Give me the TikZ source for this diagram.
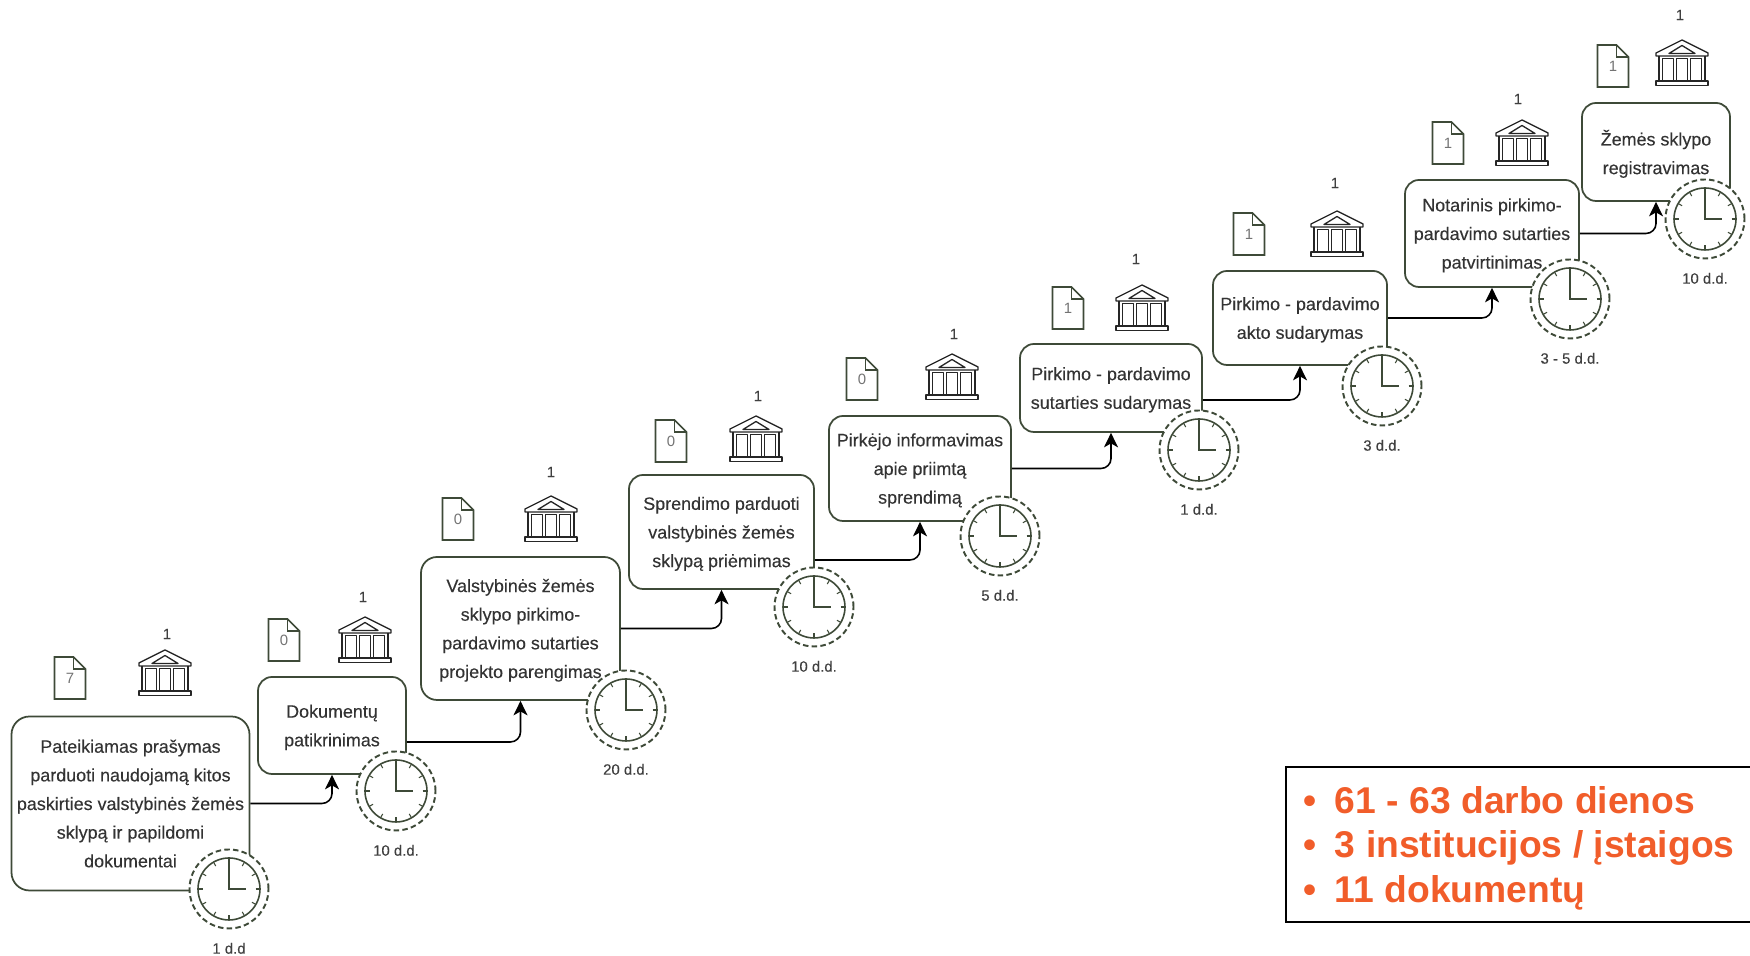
\documentclass[tikz,border=0pt]{standalone}
\usepackage{fontspec}
\setmainfont{Liberation Sans}
\newfontfamily\stepfont[FakeBold=0.25]{Liberation Sans}
\usepackage{tikz}
\usetikzlibrary{arrows.meta, positioning}
\definecolor{boxline}{HTML}{3E4A38}
\definecolor{summary}{HTML}{F15D2A}

\begin{document}
\begin{tikzpicture}[>={Stealth[length=2.9mm,width=2.8mm,inset=.8mm]},on grid,
        main node/.style={rectangle,draw=boxline,line width=1pt,rounded corners=2.8mm,inner sep=0pt,align=center,text depth=0pt,text=black!80,font=\stepfont\fontsize{10.2pt}{16.3pt}\selectfont},
        doc node/.style={inner sep=0pt,outer sep=0pt,minimum width=6.2mm,minimum height=8.4mm,text=black!55,font=\fontsize{8.5pt}{10pt}\selectfont,
          append after command={\pgfextra{
            \draw[boxline,line width=.9pt] (\tikzlastnode.south west) -- (\tikzlastnode.south east) -- ([yshift=-2.4mm]\tikzlastnode.north east) -- ([xshift=-2.4mm]\tikzlastnode.north east) -- (\tikzlastnode.north west) -- cycle;
            \draw[boxline,line width=.9pt] ([xshift=-2.4mm]\tikzlastnode.north east) -- ([xshift=-2.4mm,yshift=-2.4mm]\tikzlastnode.north east) -- ([yshift=-2.4mm]\tikzlastnode.north east);}}},
        bank node/.style={inner sep=0pt,outer sep=0pt,minimum width=11mm,minimum height=10.2mm,
          path picture={
            \begin{scope}[shift={(path picture bounding box.center)},black!85,line width=.75pt,line join=round]
              \draw (-5.2mm,1.4mm) -- (-5.2mm,2mm) -- (0,4.6mm) -- (5.2mm,2mm) -- (5.2mm,1.4mm) -- cycle;
              \draw (-2.6mm,1.9mm) -- (0,3.5mm) -- (2.6mm,1.9mm) -- cycle;
              \draw (-4.6mm,1.4mm) -- (-4.6mm,-3.6mm) (4.6mm,1.4mm) -- (4.6mm,-3.6mm);
              \draw (-3.9mm,.9mm) rectangle (-1.7mm,-3.6mm);
              \draw (-1.1mm,.9mm) rectangle (1.1mm,-3.6mm);
              \draw (1.7mm,.9mm) rectangle (3.9mm,-3.6mm);
              \draw (-5.2mm,-3.6mm) rectangle (5.2mm,-4.5mm);
            \end{scope}}},
        clock node/.style={circle,draw=boxline,line width=1.1pt,dash pattern=on 1.1mm off .65mm,fill=white,inner sep=0pt,outer sep=0pt,minimum size=15.8mm,
          path picture={
            \begin{scope}[shift={(path picture bounding box.center)},boxline,solid,line width=.9pt]
              \draw (0,0) circle (6.2mm);
              \foreach \a in {0,30,...,330}
                \draw[line width=.6pt] (\a:5.3mm) -- (\a:6.2mm);
              \draw (0,5.6mm) -- (0,0) -- (3.4mm,0);
            \end{scope}}},
        every label/.style={inner sep=0pt,text=black!75,font=\stepfont\fontsize{8.5pt}{10pt}\selectfont}]
    \useasboundingbox (0,0) rectangle (350mm,191.2mm);
    % steps
    \node[main node, rounded corners=3.6mm, minimum width=47.6mm, minimum height=34.8mm] (1) at (26.1mm,30.5mm) {Pateikiamas prašymas\\parduoti naudojamą kitos\\paskirties valstybinės žemės\\sklypą ir papildomi\\dokumentai};
    \node[main node, minimum width=29.6mm, minimum height=19.4mm] (2) [above right=15.6mm and 40.3mm of 1] {Dokumentų\\patikrinimas};
    \node[main node, rounded corners=3.2mm, minimum width=39.8mm, minimum height=28.6mm] (3) [above right=19.4mm and 37.7mm of 2] {Valstybinės žemės\\sklypo pirkimo-\\pardavimo sutarties\\projekto parengimas};
    \node[main node, minimum width=37mm, minimum height=22.8mm] (4) [above right=19.3mm and 40.2mm of 3] {Sprendimo parduoti\\valstybinės žemės\\sklypą priėmimas};
    \node[main node, minimum width=36.4mm, minimum height=21mm] (5) [above right=12.7mm and 39.7mm of 4] {Pirkėjo informavimas\\apie priimtą\\sprendimą};
    \node[main node, minimum width=36.4mm, minimum height=17.6mm] (6) [above right=16.1mm and 38.2mm of 5] {Pirkimo - pardavimo\\sutarties sudarymas};
    \node[main node, minimum width=34.8mm, minimum height=18.8mm] (7) [above right=14mm and 37.8mm of 6] {Pirkimo - pardavimo\\akto sudarymas};
    \node[main node, minimum width=34.8mm, minimum height=21.4mm] (8) [above right=16.9mm and 38.4mm of 7] {Notarinis pirkimo-\\pardavimo sutarties\\patvirtinimas};
    \node[main node, minimum width=29.6mm, minimum height=19.6mm] (9) [above right=16.3mm and 32.8mm of 8] {Žemės sklypo\\registravimas};
    % documents
    \node[doc node] (d1) [above left=25.1mm and 12.1mm of 1] {7};
    \node[doc node] (d2) [above left=17.1mm and 9.6mm of 2] {0};
    \node[doc node] (d3) [above left=21.9mm and 12.5mm of 3] {0};
    \node[doc node] (d4) [above left=18.2mm and 10.1mm of 4] {0};
    \node[doc node] (d5) [above left=17.9mm and 11.6mm of 5] {0};
    \node[doc node] (d6) [above left=16mm and 8.6mm of 6] {1};
    \node[doc node] (d7) [above left=16.8mm and 10.2mm of 7] {1};
    \node[doc node] (d8) [above left=18.1mm and 8.8mm of 8] {1};
    \node[doc node] (d9) [above left=17.2mm and 8.6mm of 9] {1};
    % institutions
    \node[bank node, label={[label distance=1.6mm, xshift=.4mm]above:1}] (b1) [above right=1mm and 19mm of d1] {};
    \node[bank node, label={[label distance=2.4mm, xshift=-.4mm]above:1}] (b2) [right=16.2mm of d2] {};
    \node[bank node, label={[label distance=3.2mm]above:1}] (b3) [right=18.6mm of d3] {};
    \node[bank node, label={[label distance=2.4mm, xshift=.4mm]above:1}] (b4) [above right=.4mm and 17mm of d4] {};
    \node[bank node, label={[label distance=2.4mm, xshift=.4mm]above:1}] (b5) [above right=.4mm and 18mm of d5] {};
    \node[bank node, label={[label distance=3.6mm, xshift=-1.2mm]above:1}] (b6) [right=14.8mm of d6] {};
    \node[bank node, label={[label distance=4mm, xshift=-.4mm]above:1}] (b7) [right=17.6mm of d7] {};
    \node[bank node, label={[label distance=2.6mm, xshift=-.8mm]above:1}] (b8) [right=14.8mm of d8] {};
    \node[bank node, label={[label distance=3.4mm, xshift=-.4mm]above:1}] (b9) [above right=.6mm and 13.8mm of d9] {};
    % connectors
    \draw[->, rounded corners=2mm, line width=.9pt] (1.east) -| (2.south);
    \draw[->, rounded corners=2mm, line width=.9pt] ([yshift=-3.3mm]2.east) -| (3.south);
    \draw[->, rounded corners=2mm, line width=.9pt] (3.east) -| (4.south);
    \draw[->, rounded corners=2mm, line width=.9pt] ([yshift=-5.6mm]4.east) -| (5.south);
    \draw[->, rounded corners=2mm, line width=.9pt] (5.east) -| (6.south);
    \draw[->, rounded corners=2mm, line width=.9pt] ([yshift=-2.4mm]6.east) -| (7.south);
    \draw[->, rounded corners=2mm, line width=.9pt] (7.east) -| (8.south);
    \draw[->, rounded corners=2mm, line width=.9pt] (8.east) -| (9.south);
    % clocks
    \node[clock node, label={[label distance=2.8mm]below:1 d.d}] (c1) [below right=17.1mm and 19.7mm of 1] {};
    \node[clock node, label={[label distance=2.8mm]below:10 d.d.}] (c2) [below right=13.1mm and 12.8mm of 2] {};
    \node[clock node, label={[label distance=2.8mm]below:20 d.d.}] (c3) [below right=16.3mm and 21.1mm of 3] {};
    \node[clock node, label={[label distance=2.8mm]below:10 d.d.}] (c4) [below right=15mm and 18.5mm of 4] {};
    \node[clock node, label={[label distance=2.8mm]below:5 d.d.}] (c5) [below right=13.5mm and 16mm of 5] {};
    \node[clock node, label={[label distance=2.8mm]below:1 d.d.}] (c6) [below right=12.4mm and 17.6mm of 6] {};
    \node[clock node, label={[label distance=2.8mm]below:3 d.d.}] (c7) [below right=13.6mm and 16.4mm of 7] {};
    \node[clock node, label={[label distance=2.8mm]below:3 - 5 d.d.}] (c8) [below right=13.1mm and 15.6mm of 8] {};
    \node[clock node, label={[label distance=2.8mm]below:10 d.d.}] (c9) [below right=13.4mm and 9.8mm of 9] {};
    % totals
    \node[draw=black, line width=1.1pt, minimum width=93.2mm, minimum height=31mm, inner sep=0pt, align=left, text depth=0pt, text=summary,
      font=\fontsize{21.2pt}{25.5pt}\selectfont\bfseries] (totals) at (303.8mm,22.3mm)
      {\makebox[6.3mm][l]{•}61 - 63 darbo dienos\\\makebox[6.3mm][l]{•}3 institucijos / įstaigos\\\makebox[6.3mm][l]{•}11 dokumentų};
  \end{tikzpicture}
\end{document}
